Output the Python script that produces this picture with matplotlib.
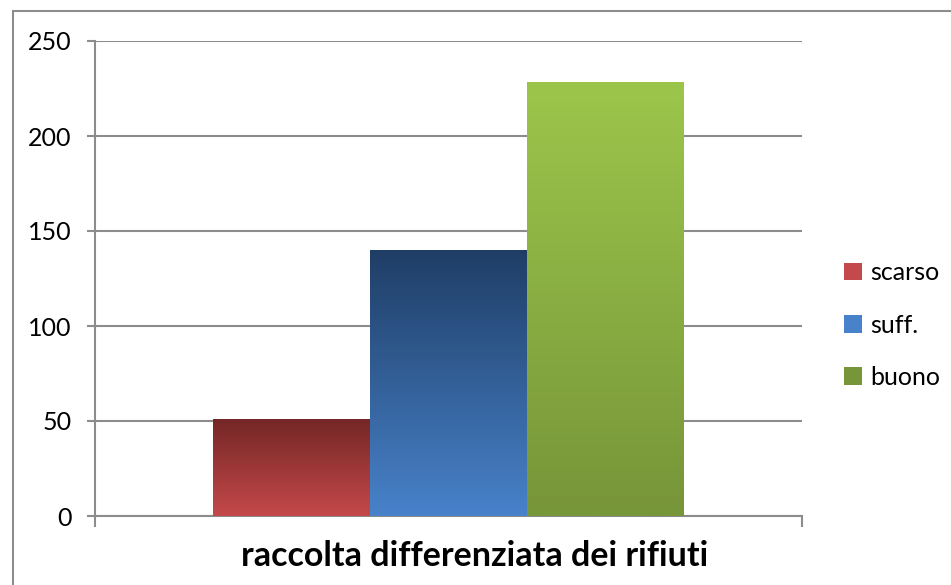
import numpy as np
import matplotlib.pyplot as plt
from matplotlib.patches import Rectangle
from matplotlib.colors import LinearSegmentedColormap

# dati
serie = ['scarso', 'suff.', 'buono']
valori = [51, 140, 228]
categoria = 'raccolta differenziata dei rifiuti'
yticks = [0, 50, 100, 150, 200, 250]

# gradienti (colore in alto, colore in basso)
gradienti = [('#752626', '#C4494A'),
             ('#1F3E66', '#4882CA'),
             ('#9CC64B', '#779539')]

plt.rcParams['font.family'] = ['Lato', 'DejaVu Sans']

W, H = 951, 585
fig = plt.figure(figsize=(W / 100, H / 100), dpi=100)
ax = fig.add_axes([95 / W, 1 - 516 / H, (802 - 95) / W, (516 - 41) / H])

# cornice del grafico
fig.patches.append(Rectangle((13 / W, -0.1), 1.2, 1 - 11 / H + 0.1,
                             transform=fig.transFigure, fill=False,
                             edgecolor='#8C8C8C', linewidth=1.5))

larg = 0.222
offsets = [(-1 + i) * larg for i in range(len(serie))]
for off, v, (c_top, c_bot), nome in zip(offsets, valori, gradienti, serie):
    x0 = off - larg / 2
    cmap = LinearSegmentedColormap.from_list(nome, [c_bot, c_top])
    grad = np.linspace(0, 1, 256).reshape(-1, 1)
    ax.imshow(grad, cmap=cmap, origin='lower', aspect='auto',
              extent=[x0, x0 + larg, 0, v], zorder=3)
    ax.bar(off, 0, width=larg, color=c_bot, label=nome)

ax.set_xlim(-0.5, 0.5)
ax.set_ylim(0, 250)
ax.set_yticks(yticks)
ax.set_xticks([-0.5, 0.5], minor=True)
ax.set_xticks([])
ax.tick_params(axis='x', which='minor', length=8, color='#8C8C8C', width=1.5)
ax.tick_params(axis='y', length=6, color='#8C8C8C', width=1.5, labelsize=18, pad=11)
ax.grid(axis='y', color='#8C8C8C', linewidth=1.5, zorder=0)
ax.set_axisbelow(True)
for s in ['top', 'right']:
    ax.spines[s].set_visible(False)
for s in ['left', 'bottom']:
    ax.spines[s].set_color('#8C8C8C')
    ax.spines[s].set_linewidth(1.5)

# etichetta della categoria, centrata nell'area del grafico
fig.text(475 / W, 1 - 556 / H, categoria, fontsize=24.5, fontweight='bold',
         ha='center', va='center')

ax.legend(loc='center left', bbox_to_anchor=(1.028, 0.402), frameon=False,
          fontsize=18, handlelength=0.7, handleheight=0.7,
          handletextpad=0.35, labelspacing=1.17)
leg = ax.get_legend()
for patch, (c_top, c_bot) in zip(leg.get_patches(), gradienti):
    patch.set_facecolor(c_bot)

fig.savefig('out.png', dpi=100)
